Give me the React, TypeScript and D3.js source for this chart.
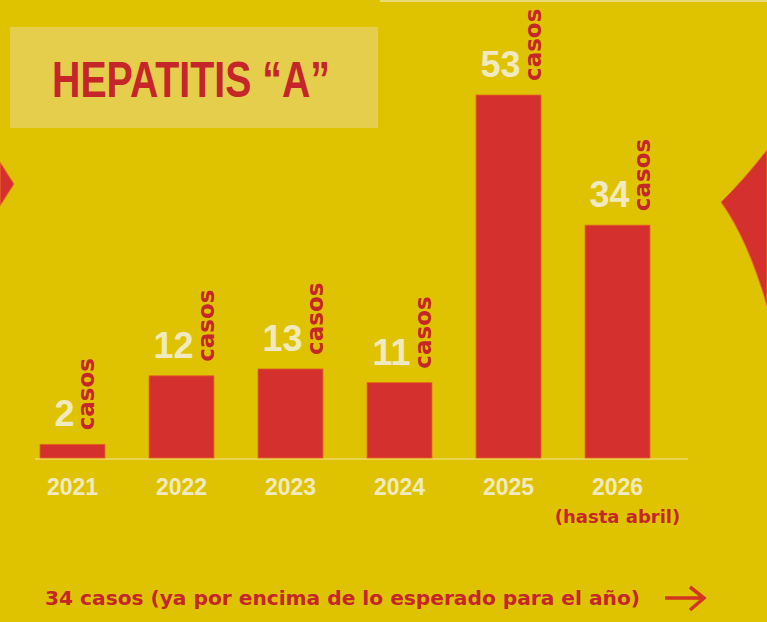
import React, { useRef, useEffect } from "react";
import * as d3 from "d3";

const years = ["2021", "2022", "2023", "2024", "2025", "2026"];
const cases = [2, 12, 13, 11, 53, 34];
const yearNotes = ["", "", "", "", "", "(hasta abril)"];
const title = "HEPATITIS \u201CA\u201D";
const unitLabel = "casos";
const footnote = "34 casos (ya por encima de lo esperado para el año)";

const W = 767;
const H = 622;
const YELLOW = "#dfc300";
const RED = "#d4302e";
const DARK_RED = "#c4262a";
const CREAM = "#f1eac0";

const App = () => {
  const svgRef = useRef<SVGSVGElement>(null);

  useEffect(() => {
    const svg = d3.select(svgRef.current);
    svg.selectAll("*").remove();

    svg.append("rect").attr("width", W).attr("height", H).attr("fill", YELLOW);
    svg.append("rect").attr("x", 380).attr("y", 0).attr("width", W - 380).attr("height", 2)
      .attr("fill", CREAM).attr("opacity", 0.6);

    // title box
    svg.append("rect")
      .attr("x", 10).attr("y", 27).attr("width", 368).attr("height", 101)
      .attr("fill", "#e8d36e").attr("opacity", 0.7);
    svg.append("text")
      .attr("x", 52).attr("y", 97)
      .attr("textLength", 278).attr("lengthAdjust", "spacingAndGlyphs")
      .style("font-family", "'Liberation Sans', Arial, sans-serif")
      .style("font-weight", "bold").style("font-size", "50px")
      .attr("fill", DARK_RED)
      .text(title);

    // side decorations
    svg.append("path").attr("d", "M0,162 L14,184 L0,206 Z")
      .attr("fill", RED).attr("stroke", "#e8741e").attr("stroke-width", 1);
    svg.append("path").attr("d", "M767,150 Q742,182 721,202 Q748,240 767,306 Z")
      .attr("fill", RED).attr("stroke", "#e8741e").attr("stroke-width", 1);

    const x = d3.scaleBand().domain(years).range([40, 650]).paddingInner(0.404).paddingOuter(0);
    const y = d3.scaleLinear().domain([0, 53]).range([458, 95]);

    // baseline
    svg.append("line")
      .attr("x1", 35).attr("x2", 688).attr("y1", 459).attr("y2", 459)
      .attr("stroke", "#eedd70").attr("stroke-width", 2).attr("opacity", 0.7);

    years.forEach((yr, i) => {
      const bx = x(yr)!;
      const v = cases[i];
      svg.append("rect")
        .attr("x", bx).attr("y", y(v))
        .attr("width", x.bandwidth()).attr("height", y(0) - y(v))
        .attr("fill", RED).attr("stroke", "#e4681f").attr("stroke-width", 0.8);

      const cx = bx + x.bandwidth() / 2;

      svg.append("text")
        .attr("x", cx).attr("y", 495)
        .attr("text-anchor", "middle")
        .style("font-family", "'Liberation Sans', Arial, sans-serif")
        .style("font-weight", "bold").style("font-size", "23px")
        .attr("fill", CREAM)
        .text(yr);

      if (yearNotes[i]) {
        svg.append("text")
          .attr("x", cx).attr("y", 523)
          .attr("text-anchor", "middle")
          .style("font-family", "'DejaVu Sans', sans-serif")
          .style("font-weight", "bold").style("font-size", "18px")
          .attr("fill", DARK_RED)
          .text(yearNotes[i]);
      }

      // value label: number + rotated "casos"
      const num = svg.append("text")
        .attr("y", y(v) - 18)
        .style("font-family", "'Liberation Sans', Arial, sans-serif")
        .style("font-weight", "bold").style("font-size", "36px")
        .attr("fill", CREAM)
        .text(String(v));
      const nw = (num.node() as SVGTextElement).getComputedTextLength();
      const gap = 5;
      const thick = 15;
      const start = cx - (nw + gap + thick) / 2 + 2;
      num.attr("x", start);
      const bxCasos = start + nw + gap + thick;
      const by = y(v) - 14;
      svg.append("text")
        .attr("transform", `translate(${bxCasos},${by}) rotate(-90)`)
        .style("font-family", "'DejaVu Sans', sans-serif")
        .style("font-weight", "bold").style("font-size", "23px")
        .attr("fill", DARK_RED)
        .text(unitLabel);
    });

    // footnote
    svg.append("text")
      .attr("x", 45).attr("y", 605)
      .attr("textLength", 595).attr("lengthAdjust", "spacingAndGlyphs")
      .style("font-family", "'DejaVu Sans', sans-serif")
      .style("font-weight", "bold").style("font-size", "19px")
      .attr("fill", DARK_RED)
      .text(footnote);
    svg.append("path")
      .attr("d", "M665,598 L702,598 M690,587 L704,598 L690,610")
      .attr("fill", "none").attr("stroke", "#d2361e")
      .attr("stroke-width", 3.5).attr("stroke-linejoin", "miter");
  }, []);

  return (
    <svg
      ref={svgRef}
      width={W}
      height={H}
      style={{ position: "absolute", left: 0, top: 0, display: "block" }}
    />
  );
};

export default App;
